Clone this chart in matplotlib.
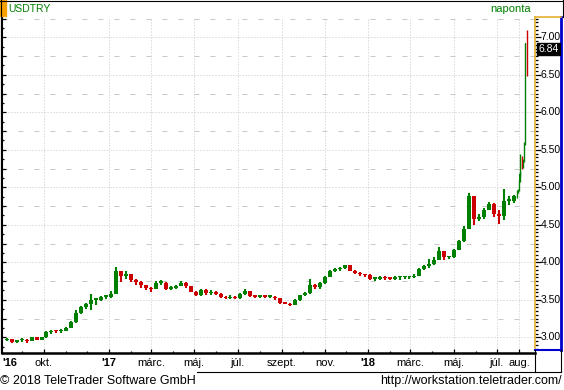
import numpy as np
import matplotlib.pyplot as plt
import matplotlib.dates as mdates
from matplotlib.lines import Line2D
from matplotlib.patches import Rectangle
import pandas as pd

plt.rcParams['font.family'] = ['Liberation Sans', 'DejaVu Sans']

# weekly candles (weeks starting monday 2016-08-08)
week_start = "2016-08-08"
first_open = 2.96
weekly_close = [
    2.98, 2.94, 2.96, 2.97, 2.95, 3.00, 2.97, 3.00, 3.07, 3.09,
    3.08, 3.09, 3.12, 3.20, 3.33, 3.40, 3.44, 3.50, 3.50, 3.54,
    3.54, 3.58, 3.88, 3.82, 3.85, 3.77, 3.74, 3.70, 3.66, 3.64,
    3.73, 3.73, 3.65, 3.66, 3.69, 3.73, 3.68, 3.61, 3.56, 3.63,
    3.59, 3.61, 3.58, 3.54, 3.52, 3.54, 3.52, 3.58, 3.62, 3.55,
    3.54, 3.55, 3.54, 3.54, 3.52, 3.46, 3.45, 3.43, 3.50, 3.56,
    3.59, 3.70, 3.67, 3.72, 3.81, 3.89, 3.91, 3.92, 3.96, 3.89,
    3.86, 3.84, 3.83, 3.78, 3.78, 3.81, 3.79, 3.78, 3.80, 3.80,
    3.80, 3.80, 3.82, 3.91, 3.95, 3.98, 4.03, 4.15, 4.07, 4.07,
    4.16, 4.28, 4.45, 4.88, 4.58, 4.60, 4.70, 4.78, 4.65, 4.62,
    4.82, 4.82, 4.88,
]
weekly_high = [
    2.99, 2.98, 2.97, 2.99, 2.98, 3.01, 3.01, 3.01, 3.08, 3.10,
    3.10, 3.11, 3.14, 3.22, 3.36, 3.42, 3.46, 3.58, 3.53, 3.55,
    3.56, 3.62, 3.94, 3.85, 3.89, 3.84, 3.78, 3.75, 3.69, 3.67,
    3.75, 3.77, 3.74, 3.68, 3.70, 3.75, 3.74, 3.69, 3.62, 3.65,
    3.64, 3.63, 3.62, 3.59, 3.55, 3.56, 3.55, 3.59, 3.64, 3.62,
    3.56, 3.56, 3.56, 3.56, 3.55, 3.52, 3.47, 3.46, 3.51, 3.57,
    3.60, 3.78, 3.71, 3.74, 3.82, 3.90, 3.92, 3.94, 3.97, 3.96,
    3.90, 3.87, 3.85, 3.84, 3.80, 3.82, 3.82, 3.80, 3.82, 3.82,
    3.82, 3.82, 3.84, 3.93, 3.96, 4.05, 4.07, 4.20, 4.15, 4.09,
    4.18, 4.30, 4.48, 4.93, 4.80, 4.64, 4.73, 4.80, 4.79, 4.70,
    4.98, 4.88, 4.90,
]
weekly_low = [
    2.95, 2.93, 2.93, 2.94, 2.93, 2.95, 2.96, 2.96, 2.99, 3.05,
    3.06, 3.06, 3.08, 3.12, 3.19, 3.31, 3.38, 3.36, 3.43, 3.48,
    3.51, 3.53, 3.60, 3.74, 3.78, 3.74, 3.70, 3.66, 3.63, 3.60,
    3.64, 3.70, 3.63, 3.63, 3.64, 3.68, 3.66, 3.60, 3.55, 3.55,
    3.57, 3.57, 3.56, 3.53, 3.51, 3.51, 3.51, 3.51, 3.56, 3.54,
    3.53, 3.53, 3.53, 3.53, 3.50, 3.45, 3.44, 3.42, 3.43, 3.49,
    3.55, 3.58, 3.64, 3.65, 3.71, 3.80, 3.87, 3.88, 3.91, 3.88,
    3.85, 3.82, 3.81, 3.77, 3.75, 3.77, 3.77, 3.76, 3.77, 3.77,
    3.78, 3.78, 3.79, 3.82, 3.90, 3.93, 3.96, 4.03, 4.03, 4.04,
    4.06, 4.16, 4.27, 4.45, 4.50, 4.55, 4.58, 4.70, 4.60, 4.51,
    4.56, 4.76, 4.79,
]

# last days, daily
daily_dates = ["2018-07-30", "2018-07-31", "2018-08-01", "2018-08-02", "2018-08-03",
               "2018-08-06", "2018-08-07", "2018-08-08", "2018-08-10", "2018-08-13"]
daily_open = [4.88, 4.95, 4.96, 5.09, 5.18, 5.38, 5.28, 5.36, 5.58, 7.08]
daily_close = [4.95, 4.96, 5.09, 5.18, 5.29, 5.28, 5.36, 5.58, 6.92, 6.84]
daily_high = [4.96, 4.98, 5.10, 5.20, 5.45, 5.42, 5.38, 5.60, 6.92, 7.10]
daily_low = [4.86, 4.92, 4.95, 5.07, 5.15, 5.25, 5.26, 5.34, 5.56, 6.49]
last_price = 6.84

month_ticks = ["2016-10-01", "2017-01-01", "2017-03-01", "2017-05-01", "2017-07-01",
               "2017-09-01", "2017-11-01", "2018-01-01", "2018-03-01", "2018-05-01",
               "2018-07-01", "2018-08-01"]
month_labels = ["okt.", "'17", "márc.", "máj.", "júl.", "szept.", "nov.", "'18",
                "márc.", "máj.", "júl.", "aug."]

GREEN = "#008000"
RED = "#CC0000"
GRID = "#C8C8C8"
W, H = 564, 390


def fx(px):
    return px / W


def fy(py):
    return 1 - py / H


def val(py):
    return 3 + (337.3 - py) / 75.0


jan17 = mdates.date2num(pd.Timestamp("2017-01-01"))


def xdate(px):
    return jan17 + (px - 109) / 0.7104


fig = plt.figure(figsize=(W / 100, H / 100), dpi=100)
ax = fig.add_axes([fx(2), fy(353), fx(535) - fx(2), fy(17) - fy(353)])
ax2 = fig.add_axes([fx(535), fy(350), fx(561) - fx(535), fy(17) - fy(350)])

ax.set_xlim(xdate(2), xdate(535))
ax.set_ylim(val(353), val(17))
ax2.set_ylim(val(350), val(17))
ax2.set_xlim(0, 1)

# grid
px = 0.72
for v in np.arange(3.0, 7.01, 0.5):
    ax.axhline(v, color=GRID, lw=px, dashes=(1, 2), zorder=0)
for v in np.arange(3.25, 7.3, 0.5):
    ax.axhline(v, color=GRID, lw=px, dashes=(5, 11), zorder=0)
tick_x = mdates.date2num(pd.to_datetime(month_ticks))
for x in tick_x:
    ax.axvline(x, color=GRID, lw=px, dashes=(1, 2), zorder=0)

# weekly candles
wdates = pd.date_range(week_start, periods=len(weekly_close), freq="7D") + pd.Timedelta(days=2)
wx = mdates.date2num(wdates)
wclose = np.array(weekly_close)
wopen = np.r_[first_open, wclose[:-1]]
wcol = [GREEN if c >= o else RED for o, c in zip(wopen, wclose)]
ax.vlines(wx, weekly_low, weekly_high, colors=wcol, lw=1.5, zorder=3)
ax.bar(wx, np.maximum(np.abs(wclose - wopen), 0.02), bottom=np.minimum(wopen, wclose),
       width=5.6, color=wcol, lw=0, zorder=3)

# daily candles
dx = mdates.date2num(pd.to_datetime(daily_dates))
dcol = [GREEN if c >= o else RED for o, c in zip(daily_open, daily_close)]
ax.vlines(dx, daily_low, daily_high, colors=dcol, lw=1.0, zorder=3)
ax.bar(dx, np.maximum(np.abs(np.array(daily_close) - np.array(daily_open)), 0.015),
       bottom=np.minimum(daily_open, daily_close), width=0.9, color=dcol, lw=0, zorder=3)

# main axes styling
for s in ["top", "right"]:
    ax.spines[s].set_visible(False)
ax.spines["left"].set_linewidth(1.5)
ax.spines["bottom"].set_linewidth(1.8)
ax.yaxis.set_major_locator(plt.MultipleLocator(0.25))
ax.yaxis.set_minor_locator(plt.MultipleLocator(0.125))
ax.tick_params(axis="y", which="major", direction="in", length=3.2, width=0.9, labelleft=False)
ax.tick_params(axis="y", which="minor", direction="in", length=1.6, width=0.9)
ax.set_xticks(tick_x)
ax.set_xticklabels(month_labels)
ax.xaxis.set_minor_locator(mdates.MonthLocator())
ax.tick_params(axis="x", which="major", direction="in", length=3, width=0.9, pad=3.5, labelsize=8)
ax.tick_params(axis="x", which="minor", direction="in", length=1.5, width=0.9)
for lab in ax.get_xticklabels():
    if lab.get_text().startswith("'"):
        lab.set_fontweight("bold")
fig.text(fx(10), fy(362.5), "'16", ha="center", va="center", fontsize=8, fontweight="bold")

# right price panel
ax2.set_xticks([])
for s in ["left", "top"]:
    ax2.spines[s].set_color("#E6B030")
    ax2.spines[s].set_linewidth(1.2)
ax2.spines["right"].set_color("#0000CC")
ax2.spines["right"].set_linewidth(2)
ax2.spines["bottom"].set_color("#0000CC")
ax2.spines["bottom"].set_linewidth(1.5)
ax2.yaxis.set_major_locator(plt.MultipleLocator(0.5))
ax2.yaxis.set_minor_locator(plt.MultipleLocator(0.05))
ax2.tick_params(axis="y", which="major", direction="in", length=4, width=0.9, labelleft=False)
ax2.tick_params(axis="y", which="minor", direction="in", length=2, width=0.9)
for v in np.arange(3.0, 7.01, 0.5):
    ax2.text(0.22, v, f"{v:.2f}", ha="left", va="center", fontsize=7.5)
ax2.add_patch(Rectangle((0.08, last_price - 0.08), 0.92, 0.16, color="black", zorder=5))
ax2.text(0.14, last_price, f"{last_price:.2f}", color="white", ha="left", va="center",
         fontsize=7.5, zorder=6)


# frame and texts
def fline(x0, y0, x1, y1, color="black", lw=0.8):
    fig.add_artist(Line2D([fx(x0), fx(x1)], [fy(y0), fy(y1)], color=color, lw=lw))


fline(0, 0.5, 564, 0.5)
fline(0.5, 0, 0.5, 353)
fline(563, 0, 563, 17)
fline(197, 372, 561, 372)
fline(535, 350, 535, 372)
fline(561, 350, 561, 372)
fig.add_artist(Rectangle((0, fy(16)), fx(6), 1 - fy(16), color="#F5A000"))
fig.text(fx(8), fy(8.5), "USDTRY", color=GREEN, fontsize=7.5, va="center", ha="left")
fig.text(fx(531), fy(9.5), "naponta", color=GREEN, fontsize=8, va="center", ha="right")
fig.text(fx(0), fy(381), "© 2018 TeleTrader Software GmbH", fontsize=9, va="center", ha="left")
fig.text(fx(562), fy(381), "http://workstation.teletrader.com/", fontsize=9, va="center", ha="right")

fig.savefig("out.png", dpi=100)
